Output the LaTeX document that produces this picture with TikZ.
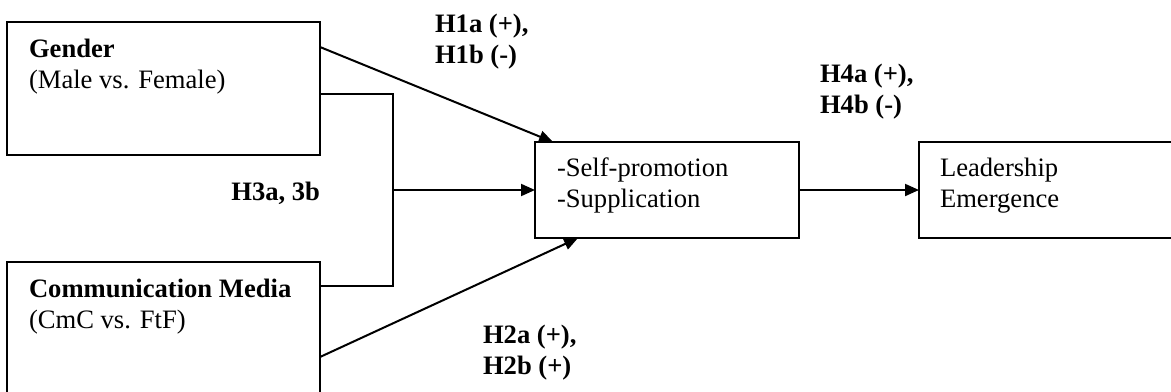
\documentclass[tikz,border=0pt]{standalone}
\usepackage{fontspec}
\setmainfont{Liberation Serif}
\usetikzlibrary{arrows.meta}
\begin{document}
\begin{tikzpicture}[x=0.5pt,y=-0.5pt,
  every node/.style={inner sep=0pt,outer sep=0pt,font=\fontsize{13.3}{15.25}\selectfont},
  boxx/.style={draw,line width=1pt,rectangle},
  txt/.style={anchor=base west,align=left},
  lbl/.style={anchor=base west,align=left,font=\fontsize{13.3}{15.25}\selectfont\bfseries},
  conn/.style={line width=1pt},
  arr/.style={line width=1pt,-{Triangle[length=7pt,width=6pt]}}]
\useasboundingbox (0,0) rectangle (1171,391);
\clip (0,0) rectangle (1171,391);
% boxes
\node[boxx,minimum width=156.5pt,minimum height=66.5pt] (gender) at (163.5,88.5) {};
\draw[boxx] (7,262) rectangle (320,420);
\node[minimum width=156.5pt,minimum height=79pt] (comm) at (163.5,341) {};
\node[boxx,minimum width=132pt,minimum height=48pt] (med) at (667,190) {};
\draw[boxx] (919,142) rectangle (1190,238);
\node[minimum width=135.5pt,minimum height=48pt] (lead) at (1054.5,190) {};
% texts (base anchor = last line)
\node[txt] (gt) at (29,88) {\textbf{Gender}\\(Male vs. Female)};
\node[txt] (ct) at (29,328) {\textbf{Communication Media}\\(CmC vs. FtF)};
\node[txt] (mt) at (557,207) {-Self-promotion\\-Supplication};
\node[txt] (lt) at (940,207) {Leadership\\Emergence};
% labels
\node[lbl] (h1) at (435,63) {H1a (+),\\H1b (-)};
\node[lbl,anchor=base east] (h3) at (320,200) {H3a, 3b};
\node[lbl] (h2) at (483,374) {H2a (+),\\H2b (+)};
\node[lbl] (h4) at (820,113) {H4a (+),\\H4b (-)};
% connector coordinates
\coordinate (g1) at (320,47);
\coordinate (g2) at (320,94);
\coordinate (c1) at (320,286);
\coordinate (c2) at (320,357);
\coordinate (j1) at (393,94);
\coordinate (j2) at (393,286);
\coordinate (jm) at (393,190);
\coordinate (m1) at (553,142);
\coordinate (m2) at (578,238);
% connectors
\draw[arr] (g1) -- (m1);
\draw[arr] (c2) -- (m2);
\draw[conn] (g2) -- (j1) -- (j2) -- (c1);
\draw[arr] (jm) -- (med.west);
\draw[arr] (med.east) -- (lead.west);
\end{tikzpicture}
\end{document}
